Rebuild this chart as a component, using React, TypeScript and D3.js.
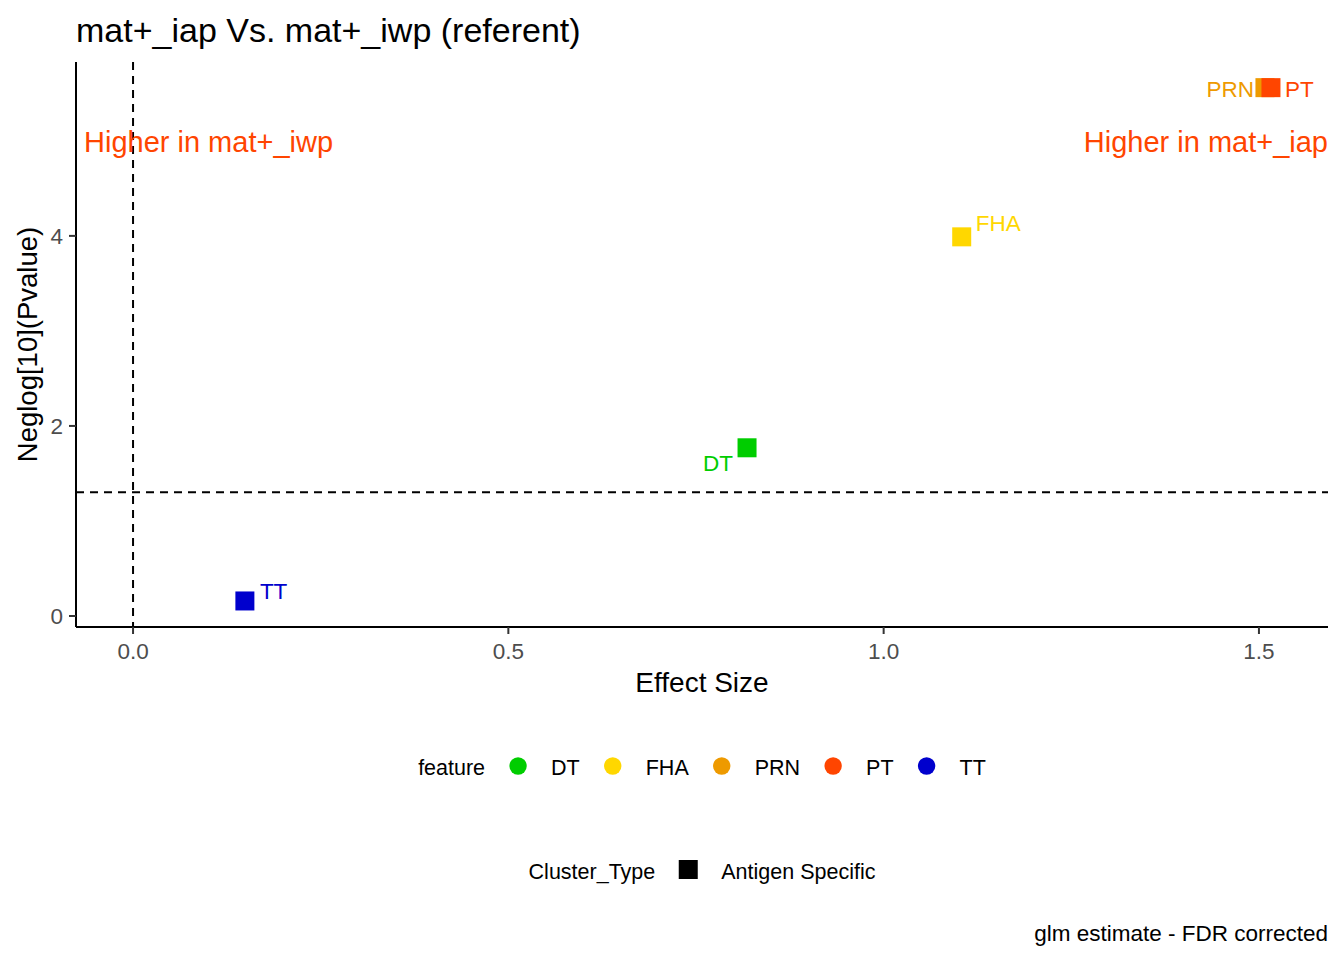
import * as React from 'react';
import * as d3 from 'd3';

// Volcano-style data: one point per antigen feature
const features = ['DT', 'FHA', 'PRN', 'PT', 'TT'];
const effectSize = [0.818, 1.104, 1.508, 1.516, 0.149];
const neglogP = [1.77, 3.99, 5.56, 5.56, 0.158];
const featureColors = ['#00CD00', '#FFD700', '#EE9A00', '#FF4500', '#0000CD'];
const clusterTypes = ['Antigen Specific'];
const xTicks = [0, 0.5, 1.0, 1.5];
const yTicks = [0, 2, 4];
const pCutoff = 0.05;

const title = 'mat+_iap Vs. mat+_iwp (referent)';
const caption = 'glm estimate - FDR corrected';

const W = 1344;
const H = 960;
const FONT = '"Liberation Sans", Arial, sans-serif';

// panel
const margin = { top: 62, right: 16, bottom: 333, left: 76 };

// label nudges, roughly where ggrepel put them
const nudge: Record<string, { dx: number; dy: number; anchor: string }> = {
    DT: { dx: -14, dy: 15, anchor: 'end' },
    FHA: { dx: 14, dy: -14, anchor: 'start' },
    PRN: { dx: -11, dy: 1, anchor: 'end' },
    PT: { dx: 14, dy: 1, anchor: 'start' },
    TT: { dx: 15, dy: -10, anchor: 'start' },
};

let ctx: CanvasRenderingContext2D | null = null;
const textWidth = (s: string, size: number) => {
    if (!ctx) ctx = document.createElement('canvas').getContext('2d');
    if (!ctx) return s.length * size * 0.55;
    ctx.font = `${size}px "Liberation Sans", Arial, sans-serif`;
    return ctx.measureText(s).width;
};

export default function App() {
    const x = d3.scaleLinear()
        .domain([-0.076, 1.592])
        .range([margin.left, W - margin.right]);
    const y = d3.scaleLinear()
        .domain([-0.116, 5.83])
        .range([H - margin.bottom, margin.top]);

    const x0 = margin.left;
    const x1 = W - margin.right;
    const y0 = H - margin.bottom;
    const y1 = margin.top;
    const midX = (x0 + x1) / 2;
    const sq = 19;

    // legend layout: title, then key + label for each entry, centred on panel
    const legSize = 21.5;
    const gap = 33;
    const layoutLegend = (head: string, labels: string[]) => {
        let cursor = textWidth(head, legSize);
        const items = labels.map((l) => {
            const key = cursor + gap;
            const lab = key + gap;
            cursor = lab + textWidth(l, legSize);
            return { key, lab };
        });
        const start = midX - cursor / 2;
        return {
            start,
            items: items.map((d) => ({ key: d.key + start, lab: d.lab + start })),
        };
    };
    const featLeg = layoutLegend('feature', features);
    const clusLeg = layoutLegend('Cluster_Type', clusterTypes);

    const hY = y(-Math.log10(pCutoff));

    return (
        <div style={{ position: 'absolute', left: 0, top: 0 }}>
            <svg width={W} height={H} style={{ display: 'block', background: '#fff' }} fontFamily={FONT}>
                <text x={x0} y={42} fontSize={34} fill="#000">{title}</text>

                {/* reference lines */}
                <line x1={x(0)} x2={x(0)} y1={y1} y2={y0} stroke="#000" strokeWidth={2} strokeDasharray="8,6" />
                <line x1={x0} x2={x1} y1={hY} y2={hY} stroke="#000" strokeWidth={2} strokeDasharray="8,6" />

                {/* axes */}
                <line x1={x0} x2={x0} y1={y1} y2={y0} stroke="#000" strokeWidth={2} />
                <line x1={x0} x2={x1} y1={y0} y2={y0} stroke="#000" strokeWidth={2} />
                {yTicks.map((t) => (
                    <g key={'y' + t}>
                        <line x1={x0 - 7} x2={x0} y1={y(t)} y2={y(t)} stroke="#333" strokeWidth={2} />
                        <text x={x0 - 13} y={y(t)} dy="0.35em" textAnchor="end" fontSize={22.5} fill="#4D4D4D">{t}</text>
                    </g>
                ))}
                {xTicks.map((t) => (
                    <g key={'x' + t}>
                        <line x1={x(t)} x2={x(t)} y1={y0} y2={y0 + 7} stroke="#333" strokeWidth={2} />
                        <text x={x(t)} y={y0 + 24} dy="0.35em" textAnchor="middle" fontSize={22.5} fill="#4D4D4D">{d3.format('.1f')(t)}</text>
                    </g>
                ))}
                <text x={midX} y={692} textAnchor="middle" fontSize={28} fill="#000">Effect Size</text>
                <text transform={`translate(37,${(y0 + y1) / 2}) rotate(-90)`} textAnchor="middle" fontSize={27.5} fill="#000">Neglog[10](Pvalue)</text>

                {/* annotations */}
                <text x={84} y={142} dy="0.35em" fontSize={29} fill="#FF4500">Higher in mat+_iwp</text>
                <text x={x1} y={142} dy="0.35em" textAnchor="end" fontSize={29} fill="#FF4500">Higher in mat+_iap</text>

                {/* points */}
                {features.map((f, i) => (
                    <rect key={'p' + f} x={x(effectSize[i]) - sq / 2} y={y(neglogP[i]) - sq / 2} width={sq} height={sq} fill={featureColors[i]} />
                ))}
                {features.map((f, i) => (
                    <text key={'l' + f} x={x(effectSize[i]) + nudge[f].dx} y={y(neglogP[i]) + nudge[f].dy} dy="0.35em"
                        textAnchor={nudge[f].anchor} fontSize={22.5} fill={featureColors[i]}>{f}</text>
                ))}

                {/* feature legend */}
                <text x={featLeg.start} y={767} dy="0.35em" fontSize={legSize} fill="#000">feature</text>
                {features.map((f, i) => (
                    <g key={'lf' + f}>
                        <circle cx={featLeg.items[i].key} cy={766} r={8.7} fill={featureColors[i]} />
                        <text x={featLeg.items[i].lab} y={767} dy="0.35em" fontSize={legSize} fill="#000">{f}</text>
                    </g>
                ))}

                {/* cluster legend */}
                <text x={clusLeg.start} y={871} dy="0.35em" fontSize={legSize} fill="#000">Cluster_Type</text>
                {clusterTypes.map((c, i) => (
                    <g key={'lc' + c}>
                        <rect x={clusLeg.items[i].key - sq / 2} y={869.5 - sq / 2} width={sq} height={sq} fill="#000" />
                        <text x={clusLeg.items[i].lab} y={871} dy="0.35em" fontSize={legSize} fill="#000">{c}</text>
                    </g>
                ))}

                <text x={x1} y={933} dy="0.35em" textAnchor="end" fontSize={22.5} fill="#000">{caption}</text>
            </svg>
        </div>
    );
}
